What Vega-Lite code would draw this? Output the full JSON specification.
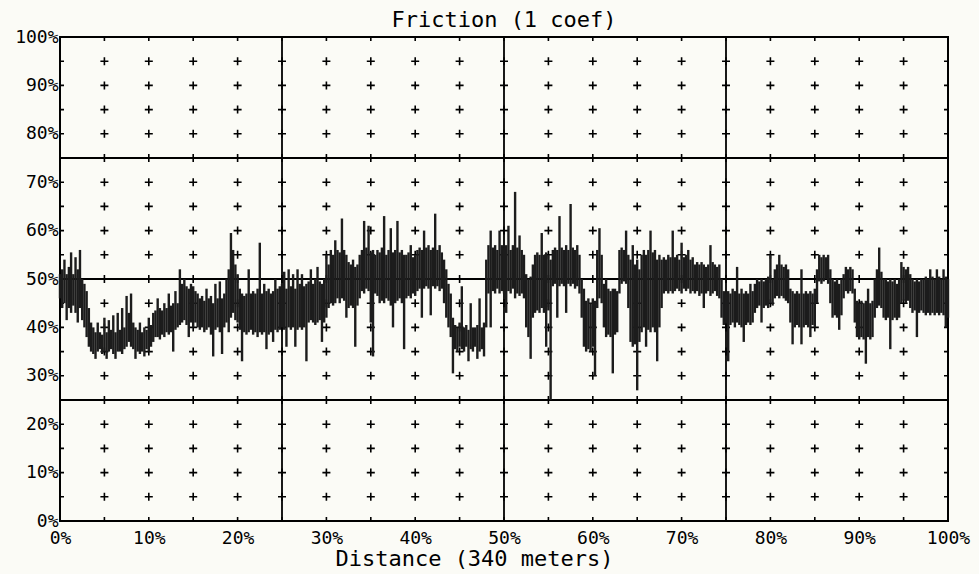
{
  "$schema": "https://vega.github.io/schema/vega-lite/v6.json",
  "width": 888,
  "height": 484,
  "autosize": "none",
  "padding": {"left": 60, "top": 37, "right": 31, "bottom": 53},
  "background": "#fbfbf6",
  "config": {
    "view": {"stroke": "#000000", "strokeWidth": 2},
    "axis": {
      "labelFont": "DejaVu Sans Mono",
      "labelFontSize": 18,
      "labelColor": "#000000",
      "titleFont": "DejaVu Sans Mono",
      "titleFontSize": 22,
      "titleFontWeight": "normal",
      "titleColor": "#000000",
      "ticks": false,
      "domain": false,
      "grid": false,
      "labelOverlap": false,
      "labelFlush": false,
      "labelBound": false
    }
  },
  "title": {
    "text": "Friction (1 coef)",
    "font": "DejaVu Sans Mono",
    "fontSize": 22,
    "fontWeight": "normal",
    "color": "#000000",
    "anchor": "middle",
    "offset": -4
  },
  "datasets": {
    "major": [{"v": 25}, {"v": 50}, {"v": 75}],
    "crosses": [
      {"gx":0,"gy":0},{"gx":0,"gy":5},{"gx":0,"gy":10},{"gx":0,"gy":15},{"gx":0,"gy":20},{"gx":0,"gy":25},{"gx":0,"gy":30},{"gx":0,"gy":35},{"gx":0,"gy":40},{"gx":0,"gy":45},{"gx":0,"gy":50},{"gx":0,"gy":55},{"gx":0,"gy":60},{"gx":0,"gy":65},{"gx":0,"gy":70},{"gx":0,"gy":75},{"gx":0,"gy":80},{"gx":0,"gy":85},{"gx":0,"gy":90},{"gx":0,"gy":95},{"gx":0,"gy":100},
      {"gx":5,"gy":0},{"gx":5,"gy":5},{"gx":5,"gy":10},{"gx":5,"gy":15},{"gx":5,"gy":20},{"gx":5,"gy":25},{"gx":5,"gy":30},{"gx":5,"gy":35},{"gx":5,"gy":40},{"gx":5,"gy":45},{"gx":5,"gy":50},{"gx":5,"gy":55},{"gx":5,"gy":60},{"gx":5,"gy":65},{"gx":5,"gy":70},{"gx":5,"gy":75},{"gx":5,"gy":80},{"gx":5,"gy":85},{"gx":5,"gy":90},{"gx":5,"gy":95},{"gx":5,"gy":100},
      {"gx":10,"gy":0},{"gx":10,"gy":5},{"gx":10,"gy":10},{"gx":10,"gy":15},{"gx":10,"gy":20},{"gx":10,"gy":25},{"gx":10,"gy":30},{"gx":10,"gy":35},{"gx":10,"gy":40},{"gx":10,"gy":45},{"gx":10,"gy":50},{"gx":10,"gy":55},{"gx":10,"gy":60},{"gx":10,"gy":65},{"gx":10,"gy":70},{"gx":10,"gy":75},{"gx":10,"gy":80},{"gx":10,"gy":85},{"gx":10,"gy":90},{"gx":10,"gy":95},{"gx":10,"gy":100},
      {"gx":15,"gy":0},{"gx":15,"gy":5},{"gx":15,"gy":10},{"gx":15,"gy":15},{"gx":15,"gy":20},{"gx":15,"gy":25},{"gx":15,"gy":30},{"gx":15,"gy":35},{"gx":15,"gy":40},{"gx":15,"gy":45},{"gx":15,"gy":50},{"gx":15,"gy":55},{"gx":15,"gy":60},{"gx":15,"gy":65},{"gx":15,"gy":70},{"gx":15,"gy":75},{"gx":15,"gy":80},{"gx":15,"gy":85},{"gx":15,"gy":90},{"gx":15,"gy":95},{"gx":15,"gy":100},
      {"gx":20,"gy":0},{"gx":20,"gy":5},{"gx":20,"gy":10},{"gx":20,"gy":15},{"gx":20,"gy":20},{"gx":20,"gy":25},{"gx":20,"gy":30},{"gx":20,"gy":35},{"gx":20,"gy":40},{"gx":20,"gy":45},{"gx":20,"gy":50},{"gx":20,"gy":55},{"gx":20,"gy":60},{"gx":20,"gy":65},{"gx":20,"gy":70},{"gx":20,"gy":75},{"gx":20,"gy":80},{"gx":20,"gy":85},{"gx":20,"gy":90},{"gx":20,"gy":95},{"gx":20,"gy":100},
      {"gx":25,"gy":0},{"gx":25,"gy":5},{"gx":25,"gy":10},{"gx":25,"gy":15},{"gx":25,"gy":20},{"gx":25,"gy":25},{"gx":25,"gy":30},{"gx":25,"gy":35},{"gx":25,"gy":40},{"gx":25,"gy":45},{"gx":25,"gy":50},{"gx":25,"gy":55},{"gx":25,"gy":60},{"gx":25,"gy":65},{"gx":25,"gy":70},{"gx":25,"gy":75},{"gx":25,"gy":80},{"gx":25,"gy":85},{"gx":25,"gy":90},{"gx":25,"gy":95},{"gx":25,"gy":100},
      {"gx":30,"gy":0},{"gx":30,"gy":5},{"gx":30,"gy":10},{"gx":30,"gy":15},{"gx":30,"gy":20},{"gx":30,"gy":25},{"gx":30,"gy":30},{"gx":30,"gy":35},{"gx":30,"gy":40},{"gx":30,"gy":45},{"gx":30,"gy":50},{"gx":30,"gy":55},{"gx":30,"gy":60},{"gx":30,"gy":65},{"gx":30,"gy":70},{"gx":30,"gy":75},{"gx":30,"gy":80},{"gx":30,"gy":85},{"gx":30,"gy":90},{"gx":30,"gy":95},{"gx":30,"gy":100},
      {"gx":35,"gy":0},{"gx":35,"gy":5},{"gx":35,"gy":10},{"gx":35,"gy":15},{"gx":35,"gy":20},{"gx":35,"gy":25},{"gx":35,"gy":30},{"gx":35,"gy":35},{"gx":35,"gy":40},{"gx":35,"gy":45},{"gx":35,"gy":50},{"gx":35,"gy":55},{"gx":35,"gy":60},{"gx":35,"gy":65},{"gx":35,"gy":70},{"gx":35,"gy":75},{"gx":35,"gy":80},{"gx":35,"gy":85},{"gx":35,"gy":90},{"gx":35,"gy":95},{"gx":35,"gy":100},
      {"gx":40,"gy":0},{"gx":40,"gy":5},{"gx":40,"gy":10},{"gx":40,"gy":15},{"gx":40,"gy":20},{"gx":40,"gy":25},{"gx":40,"gy":30},{"gx":40,"gy":35},{"gx":40,"gy":40},{"gx":40,"gy":45},{"gx":40,"gy":50},{"gx":40,"gy":55},{"gx":40,"gy":60},{"gx":40,"gy":65},{"gx":40,"gy":70},{"gx":40,"gy":75},{"gx":40,"gy":80},{"gx":40,"gy":85},{"gx":40,"gy":90},{"gx":40,"gy":95},{"gx":40,"gy":100},
      {"gx":45,"gy":0},{"gx":45,"gy":5},{"gx":45,"gy":10},{"gx":45,"gy":15},{"gx":45,"gy":20},{"gx":45,"gy":25},{"gx":45,"gy":30},{"gx":45,"gy":35},{"gx":45,"gy":40},{"gx":45,"gy":45},{"gx":45,"gy":50},{"gx":45,"gy":55},{"gx":45,"gy":60},{"gx":45,"gy":65},{"gx":45,"gy":70},{"gx":45,"gy":75},{"gx":45,"gy":80},{"gx":45,"gy":85},{"gx":45,"gy":90},{"gx":45,"gy":95},{"gx":45,"gy":100},
      {"gx":50,"gy":0},{"gx":50,"gy":5},{"gx":50,"gy":10},{"gx":50,"gy":15},{"gx":50,"gy":20},{"gx":50,"gy":25},{"gx":50,"gy":30},{"gx":50,"gy":35},{"gx":50,"gy":40},{"gx":50,"gy":45},{"gx":50,"gy":50},{"gx":50,"gy":55},{"gx":50,"gy":60},{"gx":50,"gy":65},{"gx":50,"gy":70},{"gx":50,"gy":75},{"gx":50,"gy":80},{"gx":50,"gy":85},{"gx":50,"gy":90},{"gx":50,"gy":95},{"gx":50,"gy":100},
      {"gx":55,"gy":0},{"gx":55,"gy":5},{"gx":55,"gy":10},{"gx":55,"gy":15},{"gx":55,"gy":20},{"gx":55,"gy":25},{"gx":55,"gy":30},{"gx":55,"gy":35},{"gx":55,"gy":40},{"gx":55,"gy":45},{"gx":55,"gy":50},{"gx":55,"gy":55},{"gx":55,"gy":60},{"gx":55,"gy":65},{"gx":55,"gy":70},{"gx":55,"gy":75},{"gx":55,"gy":80},{"gx":55,"gy":85},{"gx":55,"gy":90},{"gx":55,"gy":95},{"gx":55,"gy":100},
      {"gx":60,"gy":0},{"gx":60,"gy":5},{"gx":60,"gy":10},{"gx":60,"gy":15},{"gx":60,"gy":20},{"gx":60,"gy":25},{"gx":60,"gy":30},{"gx":60,"gy":35},{"gx":60,"gy":40},{"gx":60,"gy":45},{"gx":60,"gy":50},{"gx":60,"gy":55},{"gx":60,"gy":60},{"gx":60,"gy":65},{"gx":60,"gy":70},{"gx":60,"gy":75},{"gx":60,"gy":80},{"gx":60,"gy":85},{"gx":60,"gy":90},{"gx":60,"gy":95},{"gx":60,"gy":100},
      {"gx":65,"gy":0},{"gx":65,"gy":5},{"gx":65,"gy":10},{"gx":65,"gy":15},{"gx":65,"gy":20},{"gx":65,"gy":25},{"gx":65,"gy":30},{"gx":65,"gy":35},{"gx":65,"gy":40},{"gx":65,"gy":45},{"gx":65,"gy":50},{"gx":65,"gy":55},{"gx":65,"gy":60},{"gx":65,"gy":65},{"gx":65,"gy":70},{"gx":65,"gy":75},{"gx":65,"gy":80},{"gx":65,"gy":85},{"gx":65,"gy":90},{"gx":65,"gy":95},{"gx":65,"gy":100},
      {"gx":70,"gy":0},{"gx":70,"gy":5},{"gx":70,"gy":10},{"gx":70,"gy":15},{"gx":70,"gy":20},{"gx":70,"gy":25},{"gx":70,"gy":30},{"gx":70,"gy":35},{"gx":70,"gy":40},{"gx":70,"gy":45},{"gx":70,"gy":50},{"gx":70,"gy":55},{"gx":70,"gy":60},{"gx":70,"gy":65},{"gx":70,"gy":70},{"gx":70,"gy":75},{"gx":70,"gy":80},{"gx":70,"gy":85},{"gx":70,"gy":90},{"gx":70,"gy":95},{"gx":70,"gy":100},
      {"gx":75,"gy":0},{"gx":75,"gy":5},{"gx":75,"gy":10},{"gx":75,"gy":15},{"gx":75,"gy":20},{"gx":75,"gy":25},{"gx":75,"gy":30},{"gx":75,"gy":35},{"gx":75,"gy":40},{"gx":75,"gy":45},{"gx":75,"gy":50},{"gx":75,"gy":55},{"gx":75,"gy":60},{"gx":75,"gy":65},{"gx":75,"gy":70},{"gx":75,"gy":75},{"gx":75,"gy":80},{"gx":75,"gy":85},{"gx":75,"gy":90},{"gx":75,"gy":95},{"gx":75,"gy":100},
      {"gx":80,"gy":0},{"gx":80,"gy":5},{"gx":80,"gy":10},{"gx":80,"gy":15},{"gx":80,"gy":20},{"gx":80,"gy":25},{"gx":80,"gy":30},{"gx":80,"gy":35},{"gx":80,"gy":40},{"gx":80,"gy":45},{"gx":80,"gy":50},{"gx":80,"gy":55},{"gx":80,"gy":60},{"gx":80,"gy":65},{"gx":80,"gy":70},{"gx":80,"gy":75},{"gx":80,"gy":80},{"gx":80,"gy":85},{"gx":80,"gy":90},{"gx":80,"gy":95},{"gx":80,"gy":100},
      {"gx":85,"gy":0},{"gx":85,"gy":5},{"gx":85,"gy":10},{"gx":85,"gy":15},{"gx":85,"gy":20},{"gx":85,"gy":25},{"gx":85,"gy":30},{"gx":85,"gy":35},{"gx":85,"gy":40},{"gx":85,"gy":45},{"gx":85,"gy":50},{"gx":85,"gy":55},{"gx":85,"gy":60},{"gx":85,"gy":65},{"gx":85,"gy":70},{"gx":85,"gy":75},{"gx":85,"gy":80},{"gx":85,"gy":85},{"gx":85,"gy":90},{"gx":85,"gy":95},{"gx":85,"gy":100},
      {"gx":90,"gy":0},{"gx":90,"gy":5},{"gx":90,"gy":10},{"gx":90,"gy":15},{"gx":90,"gy":20},{"gx":90,"gy":25},{"gx":90,"gy":30},{"gx":90,"gy":35},{"gx":90,"gy":40},{"gx":90,"gy":45},{"gx":90,"gy":50},{"gx":90,"gy":55},{"gx":90,"gy":60},{"gx":90,"gy":65},{"gx":90,"gy":70},{"gx":90,"gy":75},{"gx":90,"gy":80},{"gx":90,"gy":85},{"gx":90,"gy":90},{"gx":90,"gy":95},{"gx":90,"gy":100},
      {"gx":95,"gy":0},{"gx":95,"gy":5},{"gx":95,"gy":10},{"gx":95,"gy":15},{"gx":95,"gy":20},{"gx":95,"gy":25},{"gx":95,"gy":30},{"gx":95,"gy":35},{"gx":95,"gy":40},{"gx":95,"gy":45},{"gx":95,"gy":50},{"gx":95,"gy":55},{"gx":95,"gy":60},{"gx":95,"gy":65},{"gx":95,"gy":70},{"gx":95,"gy":75},{"gx":95,"gy":80},{"gx":95,"gy":85},{"gx":95,"gy":90},{"gx":95,"gy":95},{"gx":95,"gy":100},
      {"gx":100,"gy":0},{"gx":100,"gy":5},{"gx":100,"gy":10},{"gx":100,"gy":15},{"gx":100,"gy":20},{"gx":100,"gy":25},{"gx":100,"gy":30},{"gx":100,"gy":35},{"gx":100,"gy":40},{"gx":100,"gy":45},{"gx":100,"gy":50},{"gx":100,"gy":55},{"gx":100,"gy":60},{"gx":100,"gy":65},{"gx":100,"gy":70},{"gx":100,"gy":75},{"gx":100,"gy":80},{"gx":100,"gy":85},{"gx":100,"gy":90},{"gx":100,"gy":95},{"gx":100,"gy":100}
    ],
    "friction": [
      {"d":0,"lo":46,"hi":51},{"d":0.25,"lo":44,"hi":52},{"d":0.5,"lo":45,"hi":54},{"d":0.75,"lo":41.5,"hi":51},
      {"d":1,"lo":44,"hi":52.5},{"d":1.25,"lo":43,"hi":55.5},{"d":1.5,"lo":44.5,"hi":51},{"d":1.75,"lo":43,"hi":54.5},
      {"d":2,"lo":41,"hi":52},{"d":2.25,"lo":44,"hi":56},{"d":2.5,"lo":41.5,"hi":50},{"d":2.75,"lo":40,"hi":49},
      {"d":3,"lo":38,"hi":47.5},{"d":3.25,"lo":36,"hi":44},{"d":3.5,"lo":35,"hi":41},{"d":3.75,"lo":34.5,"hi":40},
      {"d":4,"lo":33.5,"hi":39},{"d":4.25,"lo":35,"hi":41},{"d":4.5,"lo":35.5,"hi":39},{"d":4.75,"lo":34.5,"hi":38.5},
      {"d":5,"lo":35,"hi":42},{"d":5.25,"lo":33.5,"hi":39},{"d":5.5,"lo":35,"hi":41.5},{"d":5.75,"lo":35.5,"hi":39.5},
      {"d":6,"lo":34.5,"hi":42.5},{"d":6.25,"lo":33.5,"hi":39},{"d":6.5,"lo":35,"hi":43},{"d":6.75,"lo":35,"hi":39.5},
      {"d":7,"lo":34.5,"hi":44},{"d":7.25,"lo":35.5,"hi":40},{"d":7.5,"lo":36,"hi":46.5},{"d":7.75,"lo":37,"hi":43},
      {"d":8,"lo":36,"hi":47},{"d":8.25,"lo":35.5,"hi":41},{"d":8.5,"lo":33.5,"hi":40},{"d":8.75,"lo":35,"hi":39.5},
      {"d":9,"lo":34.5,"hi":41},{"d":9.25,"lo":35,"hi":39},{"d":9.5,"lo":34,"hi":40},{"d":9.75,"lo":35.5,"hi":39.5},
      {"d":10,"lo":35,"hi":42},{"d":10.25,"lo":36,"hi":40.5},{"d":10.5,"lo":37,"hi":43},{"d":10.75,"lo":38,"hi":43.5},
      {"d":11,"lo":38,"hi":46},{"d":11.25,"lo":37.5,"hi":44},{"d":11.5,"lo":38.5,"hi":43.5},{"d":11.75,"lo":38,"hi":45},
      {"d":12,"lo":39,"hi":44},{"d":12.25,"lo":38.5,"hi":47},{"d":12.5,"lo":39,"hi":44.5},{"d":12.75,"lo":35,"hi":45},
      {"d":13,"lo":39.5,"hi":47.5},{"d":13.25,"lo":40,"hi":45},{"d":13.5,"lo":40.5,"hi":52},{"d":13.75,"lo":41,"hi":49},
      {"d":14,"lo":41.5,"hi":50},{"d":14.25,"lo":40.5,"hi":48.5},{"d":14.5,"lo":38,"hi":48},{"d":14.75,"lo":41,"hi":49},
      {"d":15,"lo":40,"hi":48.5},{"d":15.25,"lo":41,"hi":47.5},{"d":15.5,"lo":40,"hi":47},{"d":15.75,"lo":39.5,"hi":46},
      {"d":16,"lo":40,"hi":46.5},{"d":16.25,"lo":39,"hi":45.5},{"d":16.5,"lo":39.5,"hi":48},{"d":16.75,"lo":40,"hi":46},
      {"d":17,"lo":38.5,"hi":46.5},{"d":17.25,"lo":34,"hi":45},{"d":17.5,"lo":39.5,"hi":49},{"d":17.75,"lo":40,"hi":46},
      {"d":18,"lo":39,"hi":49.5},{"d":18.25,"lo":34.5,"hi":46},{"d":18.5,"lo":40,"hi":47},{"d":18.75,"lo":41,"hi":50},
      {"d":19,"lo":39,"hi":52},{"d":19.25,"lo":42,"hi":59.5},{"d":19.5,"lo":43,"hi":56},{"d":19.75,"lo":41.5,"hi":53},
      {"d":20,"lo":41,"hi":51},{"d":20.25,"lo":39.5,"hi":48},{"d":20.5,"lo":33,"hi":47},{"d":20.75,"lo":39,"hi":46.5},
      {"d":21,"lo":38.5,"hi":47},{"d":21.25,"lo":39,"hi":52},{"d":21.5,"lo":39.5,"hi":47},{"d":21.75,"lo":38.5,"hi":47.5},
      {"d":22,"lo":39,"hi":47},{"d":22.25,"lo":38,"hi":48},{"d":22.5,"lo":39,"hi":57.5},{"d":22.75,"lo":38.5,"hi":47},
      {"d":23,"lo":39,"hi":49},{"d":23.25,"lo":35.5,"hi":47.5},{"d":23.5,"lo":38.5,"hi":48},{"d":23.75,"lo":39,"hi":47},
      {"d":24,"lo":37,"hi":47.5},{"d":24.25,"lo":39.5,"hi":50},{"d":24.5,"lo":39,"hi":48},{"d":24.75,"lo":39.5,"hi":48.5},
      {"d":25,"lo":40,"hi":49},{"d":25.25,"lo":39.5,"hi":51.5},{"d":25.5,"lo":36,"hi":48},{"d":25.75,"lo":40,"hi":52},
      {"d":26,"lo":39.5,"hi":48.5},{"d":26.25,"lo":40,"hi":51},{"d":26.5,"lo":36,"hi":48},{"d":26.75,"lo":39.5,"hi":52},
      {"d":27,"lo":40,"hi":49},{"d":27.25,"lo":39.5,"hi":51},{"d":27.5,"lo":40,"hi":48.5},{"d":27.75,"lo":33,"hi":49},
      {"d":28,"lo":41,"hi":49.5},{"d":28.25,"lo":41.5,"hi":52},{"d":28.5,"lo":41,"hi":49},{"d":28.75,"lo":40.5,"hi":50},
      {"d":29,"lo":41,"hi":52.5},{"d":29.25,"lo":41.5,"hi":49.5},{"d":29.5,"lo":37,"hi":49},{"d":29.75,"lo":41,"hi":50},
      {"d":30,"lo":42,"hi":55},{"d":30.25,"lo":44,"hi":53},{"d":30.5,"lo":45,"hi":56},{"d":30.75,"lo":44.5,"hi":55},
      {"d":31,"lo":45,"hi":58},{"d":31.25,"lo":46,"hi":56},{"d":31.5,"lo":45,"hi":55.5},{"d":31.75,"lo":46,"hi":62.5},
      {"d":32,"lo":45.5,"hi":56},{"d":32.25,"lo":42,"hi":55},{"d":32.5,"lo":44,"hi":53.5},{"d":32.75,"lo":44.5,"hi":53},
      {"d":33,"lo":44,"hi":54},{"d":33.25,"lo":36,"hi":52.5},{"d":33.5,"lo":44.5,"hi":53},{"d":33.75,"lo":46,"hi":55},
      {"d":34,"lo":47.5,"hi":56},{"d":34.25,"lo":47,"hi":62},{"d":34.5,"lo":48,"hi":56.5},{"d":34.75,"lo":47.5,"hi":61},
      {"d":35,"lo":41,"hi":55.5},{"d":35.25,"lo":34,"hi":56},{"d":35.5,"lo":47,"hi":55},{"d":35.75,"lo":46.5,"hi":56},
      {"d":36,"lo":45,"hi":55.5},{"d":36.25,"lo":45.5,"hi":56.5},{"d":36.5,"lo":45,"hi":63},{"d":36.75,"lo":46,"hi":55},
      {"d":37,"lo":45.5,"hi":56},{"d":37.25,"lo":44.5,"hi":60.5},{"d":37.5,"lo":40,"hi":55.5},{"d":37.75,"lo":45,"hi":56},
      {"d":38,"lo":45.5,"hi":62},{"d":38.25,"lo":46,"hi":55.5},{"d":38.5,"lo":45,"hi":56},{"d":38.75,"lo":35.5,"hi":55},
      {"d":39,"lo":46,"hi":55},{"d":39.25,"lo":46.5,"hi":55.5},{"d":39.5,"lo":46,"hi":57},{"d":39.75,"lo":47,"hi":54.5},
      {"d":40,"lo":46.5,"hi":55},{"d":40.25,"lo":47.5,"hi":56},{"d":40.5,"lo":48,"hi":56.5},{"d":40.75,"lo":42,"hi":56},
      {"d":41,"lo":48,"hi":60},{"d":41.25,"lo":48.5,"hi":56.5},{"d":41.5,"lo":48,"hi":57},{"d":41.75,"lo":42.5,"hi":56},
      {"d":42,"lo":48.5,"hi":56.5},{"d":42.25,"lo":48,"hi":63.5},{"d":42.5,"lo":48.5,"hi":56},{"d":42.75,"lo":47.5,"hi":57},
      {"d":43,"lo":48,"hi":55.5},{"d":43.25,"lo":45,"hi":54},{"d":43.5,"lo":42,"hi":52},{"d":43.75,"lo":40,"hi":49},
      {"d":44,"lo":38,"hi":47},{"d":44.25,"lo":30.5,"hi":42},{"d":44.5,"lo":35.5,"hi":40.5},{"d":44.75,"lo":35,"hi":40},
      {"d":45,"lo":36,"hi":41},{"d":45.25,"lo":35.5,"hi":48.5},{"d":45.5,"lo":35,"hi":40},{"d":45.75,"lo":36,"hi":40.5},
      {"d":46,"lo":33,"hi":39.5},{"d":46.25,"lo":35.5,"hi":45},{"d":46.5,"lo":35,"hi":40},{"d":46.75,"lo":36,"hi":40},
      {"d":47,"lo":33.5,"hi":40.5},{"d":47.25,"lo":35,"hi":46},{"d":47.5,"lo":35.5,"hi":40},{"d":47.75,"lo":34,"hi":41},
      {"d":48,"lo":40,"hi":54},{"d":48.25,"lo":47,"hi":57},{"d":48.5,"lo":40,"hi":60},{"d":48.75,"lo":47.5,"hi":56.5},
      {"d":49,"lo":47,"hi":57},{"d":49.25,"lo":48,"hi":56},{"d":49.5,"lo":47,"hi":60},{"d":49.75,"lo":47.5,"hi":57},
      {"d":50,"lo":47,"hi":56.5},{"d":50.25,"lo":43,"hi":57},{"d":50.5,"lo":47.5,"hi":61},{"d":50.75,"lo":47,"hi":56},
      {"d":51,"lo":48,"hi":57},{"d":51.25,"lo":46,"hi":68},{"d":51.5,"lo":47,"hi":56.5},{"d":51.75,"lo":46.5,"hi":59},
      {"d":52,"lo":47,"hi":56},{"d":52.25,"lo":46,"hi":55},{"d":52.5,"lo":40,"hi":51},{"d":52.75,"lo":38,"hi":50},
      {"d":53,"lo":33.5,"hi":50.5},{"d":53.25,"lo":42,"hi":53},{"d":53.5,"lo":43,"hi":55},{"d":53.75,"lo":43.5,"hi":55.5},
      {"d":54,"lo":43,"hi":55},{"d":54.25,"lo":44,"hi":59.5},{"d":54.5,"lo":43,"hi":55},{"d":54.75,"lo":36,"hi":55.5},
      {"d":55,"lo":43.5,"hi":55},{"d":55.25,"lo":25,"hi":54},{"d":55.5,"lo":48.5,"hi":56},{"d":55.75,"lo":49,"hi":56.5},
      {"d":56,"lo":42,"hi":56},{"d":56.25,"lo":48.5,"hi":63},{"d":56.5,"lo":49,"hi":56.5},{"d":56.75,"lo":48.5,"hi":56},
      {"d":57,"lo":43,"hi":57},{"d":57.25,"lo":49,"hi":56},{"d":57.5,"lo":48.5,"hi":65.5},{"d":57.75,"lo":49,"hi":56.5},
      {"d":58,"lo":48,"hi":56},{"d":58.25,"lo":48.5,"hi":57},{"d":58.5,"lo":47,"hi":55},{"d":58.75,"lo":42,"hi":50},
      {"d":59,"lo":36,"hi":48},{"d":59.25,"lo":35,"hi":45.5},{"d":59.5,"lo":35.5,"hi":46},{"d":59.75,"lo":35,"hi":45},
      {"d":60,"lo":36,"hi":46},{"d":60.25,"lo":30,"hi":45.5},{"d":60.5,"lo":44,"hi":56},{"d":60.75,"lo":46,"hi":60.5},
      {"d":61,"lo":45,"hi":55},{"d":61.25,"lo":40,"hi":49},{"d":61.5,"lo":38,"hi":50},{"d":61.75,"lo":38.5,"hi":48},
      {"d":62,"lo":38,"hi":47.5},{"d":62.25,"lo":30.5,"hi":48},{"d":62.5,"lo":38.5,"hi":48},{"d":62.75,"lo":39,"hi":47.5},
      {"d":63,"lo":47,"hi":56},{"d":63.25,"lo":49,"hi":56.5},{"d":63.5,"lo":49.5,"hi":56},{"d":63.75,"lo":49,"hi":60},
      {"d":64,"lo":44,"hi":55},{"d":64.25,"lo":37,"hi":54},{"d":64.5,"lo":36,"hi":57},{"d":64.75,"lo":36.5,"hi":53},
      {"d":65,"lo":27,"hi":54},{"d":65.25,"lo":37,"hi":52},{"d":65.5,"lo":39,"hi":55},{"d":65.75,"lo":40,"hi":56},
      {"d":66,"lo":36,"hi":55},{"d":66.25,"lo":39.5,"hi":56},{"d":66.5,"lo":39,"hi":60},{"d":66.75,"lo":40,"hi":55.5},
      {"d":67,"lo":39,"hi":56},{"d":67.25,"lo":33,"hi":54},{"d":67.5,"lo":40,"hi":55},{"d":67.75,"lo":44,"hi":54},
      {"d":68,"lo":47,"hi":54.5},{"d":68.25,"lo":47.5,"hi":54},{"d":68.5,"lo":47,"hi":55},{"d":68.75,"lo":47.5,"hi":54.5},
      {"d":69,"lo":47,"hi":60},{"d":69.25,"lo":47.5,"hi":54.5},{"d":69.5,"lo":48,"hi":55},{"d":69.75,"lo":47.5,"hi":54},
      {"d":70,"lo":47,"hi":57.5},{"d":70.25,"lo":48,"hi":54.5},{"d":70.5,"lo":47.5,"hi":55},{"d":70.75,"lo":48,"hi":56},
      {"d":71,"lo":47,"hi":54},{"d":71.25,"lo":47.5,"hi":54.5},{"d":71.5,"lo":47,"hi":53},{"d":71.75,"lo":47.5,"hi":53.5},
      {"d":72,"lo":46.5,"hi":53},{"d":72.25,"lo":47,"hi":53.5},{"d":72.5,"lo":44,"hi":53},{"d":72.75,"lo":47,"hi":52.5},
      {"d":73,"lo":47.5,"hi":53},{"d":73.25,"lo":46.5,"hi":57},{"d":73.5,"lo":47,"hi":53.5},{"d":73.75,"lo":47.5,"hi":53},
      {"d":74,"lo":46.5,"hi":52.5},{"d":74.25,"lo":46,"hi":53},{"d":74.5,"lo":42,"hi":50},{"d":74.75,"lo":40.5,"hi":47.5},
      {"d":75,"lo":41,"hi":47},{"d":75.25,"lo":33,"hi":47.5},{"d":75.5,"lo":40.5,"hi":47},{"d":75.75,"lo":41,"hi":48},
      {"d":76,"lo":40,"hi":47.5},{"d":76.25,"lo":41,"hi":52.5},{"d":76.5,"lo":40.5,"hi":47},{"d":76.75,"lo":40,"hi":48},
      {"d":77,"lo":37,"hi":47},{"d":77.25,"lo":40.5,"hi":47.5},{"d":77.5,"lo":41,"hi":47},{"d":77.75,"lo":40.5,"hi":49},
      {"d":78,"lo":41,"hi":47.5},{"d":78.25,"lo":43,"hi":49},{"d":78.5,"lo":44,"hi":50},{"d":78.75,"lo":44.5,"hi":49.5},
      {"d":79,"lo":41,"hi":50},{"d":79.25,"lo":44,"hi":49.5},{"d":79.5,"lo":44.5,"hi":50},{"d":79.75,"lo":44,"hi":50.5},
      {"d":80,"lo":45,"hi":55},{"d":80.25,"lo":44.5,"hi":50},{"d":80.5,"lo":46,"hi":52},{"d":80.75,"lo":46.5,"hi":53},
      {"d":81,"lo":46,"hi":55},{"d":81.25,"lo":46.5,"hi":53},{"d":81.5,"lo":46,"hi":52.5},{"d":81.75,"lo":45.5,"hi":53},
      {"d":82,"lo":45,"hi":52},{"d":82.25,"lo":41,"hi":48},{"d":82.5,"lo":36.5,"hi":47.5},{"d":82.75,"lo":40,"hi":47},
      {"d":83,"lo":40.5,"hi":47.5},{"d":83.25,"lo":40,"hi":47},{"d":83.5,"lo":36.5,"hi":52},{"d":83.75,"lo":40,"hi":47},
      {"d":84,"lo":40.5,"hi":47.5},{"d":84.25,"lo":40,"hi":47},{"d":84.5,"lo":38,"hi":47.5},{"d":84.75,"lo":40.5,"hi":47},
      {"d":85,"lo":40,"hi":48},{"d":85.25,"lo":45,"hi":52},{"d":85.5,"lo":49.5,"hi":55},{"d":85.75,"lo":49,"hi":54.5},
      {"d":86,"lo":49.5,"hi":55},{"d":86.25,"lo":50,"hi":54.5},{"d":86.5,"lo":49,"hi":55},{"d":86.75,"lo":45,"hi":52},
      {"d":87,"lo":42,"hi":50},{"d":87.25,"lo":42.5,"hi":49.5},{"d":87.5,"lo":42,"hi":50},{"d":87.75,"lo":39.5,"hi":49},
      {"d":88,"lo":42.5,"hi":50},{"d":88.25,"lo":46,"hi":51},{"d":88.5,"lo":47.5,"hi":52.5},{"d":88.75,"lo":47,"hi":52},
      {"d":89,"lo":47.5,"hi":52.5},{"d":89.25,"lo":47,"hi":52},{"d":89.5,"lo":41,"hi":48},{"d":89.75,"lo":38,"hi":45.5},
      {"d":90,"lo":37.5,"hi":45},{"d":90.25,"lo":38,"hi":45.5},{"d":90.5,"lo":37.5,"hi":45},{"d":90.75,"lo":32.5,"hi":45.5},
      {"d":91,"lo":38,"hi":48},{"d":91.25,"lo":37.5,"hi":45},{"d":91.5,"lo":38,"hi":45.5},{"d":91.75,"lo":42,"hi":50},
      {"d":92,"lo":44,"hi":52},{"d":92.25,"lo":44.5,"hi":56.5},{"d":92.5,"lo":44,"hi":51.5},{"d":92.75,"lo":42,"hi":50},
      {"d":93,"lo":41.5,"hi":50},{"d":93.25,"lo":42,"hi":49.5},{"d":93.5,"lo":35.5,"hi":50},{"d":93.75,"lo":41.5,"hi":49.5},
      {"d":94,"lo":42,"hi":50},{"d":94.25,"lo":41.5,"hi":49},{"d":94.5,"lo":42,"hi":50},{"d":94.75,"lo":45,"hi":53.5},
      {"d":95,"lo":45.5,"hi":52.5},{"d":95.25,"lo":45,"hi":52},{"d":95.5,"lo":45.5,"hi":52.5},{"d":95.75,"lo":44,"hi":51},
      {"d":96,"lo":43,"hi":50},{"d":96.25,"lo":43.5,"hi":49.5},{"d":96.5,"lo":38,"hi":50},{"d":96.75,"lo":43,"hi":49.5},
      {"d":97,"lo":43.5,"hi":50},{"d":97.25,"lo":43,"hi":50},{"d":97.5,"lo":42.5,"hi":50.5},{"d":97.75,"lo":43,"hi":50},
      {"d":98,"lo":42.5,"hi":52},{"d":98.25,"lo":43,"hi":50.5},{"d":98.5,"lo":42.5,"hi":50},{"d":98.75,"lo":43,"hi":52},
      {"d":99,"lo":42.5,"hi":50.5},{"d":99.25,"lo":43,"hi":50},{"d":99.5,"lo":42.5,"hi":52},{"d":99.75,"lo":40,"hi":50.5},
      {"d":100,"lo":42,"hi":50}
    ]
  },
  "layer": [
    {
      "data": {"name": "crosses"},
      "mark": {"type": "point", "shape": "M-1,0H1M0,-1V1", "size": 64, "filled": false, "color": "#000000", "strokeWidth": 1.6, "opacity": 1, "clip": true},
      "encoding": {
        "x": {
          "field": "gx",
          "type": "quantitative",
          "scale": {"domain": [0, 100], "nice": false, "zero": false},
          "axis": {
            "values": [0,10,20,30,40,50,60,70,80,90,100],
            "labelExpr": "datum.value + '%'",
            "labelPadding": 8,
            "title": "Distance (340 meters)",
            "titlePadding": 1,
            "titleX": 414
          }
        },
        "y": {
          "field": "gy",
          "type": "quantitative",
          "scale": {"domain": [0, 100], "nice": false, "zero": false},
          "axis": {
            "values": [0,10,20,30,40,50,60,70,80,90,100],
            "labelExpr": "datum.value + '%'",
            "labelPadding": 2,
            "title": null
          }
        }
      }
    },
    {
      "data": {"name": "major"},
      "mark": {"type": "rule", "color": "#000000", "strokeWidth": 1.8},
      "encoding": {"x": {"field": "v", "type": "quantitative"}}
    },
    {
      "data": {"name": "major"},
      "mark": {"type": "rule", "color": "#000000", "strokeWidth": 1.8},
      "encoding": {"y": {"field": "v", "type": "quantitative"}}
    },
    {
      "data": {"name": "friction"},
      "mark": {"type": "rule", "strokeWidth": 2.4, "color": "#1c1c1c"},
      "encoding": {
        "x": {"field": "d", "type": "quantitative"},
        "y": {"field": "lo", "type": "quantitative"},
        "y2": {"field": "hi"}
      }
    }
  ]
}
